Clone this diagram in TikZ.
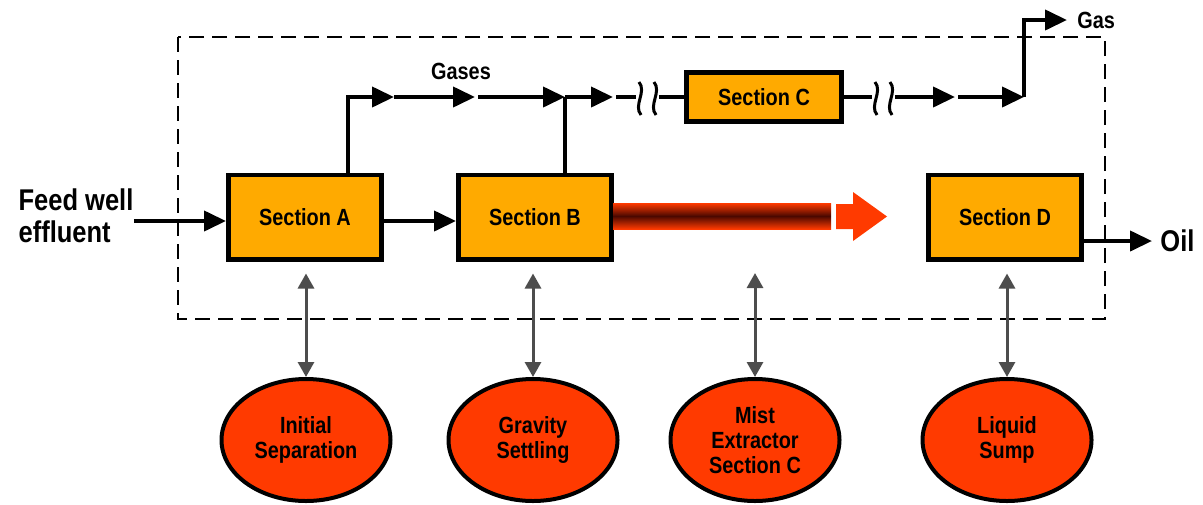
\documentclass[tikz,border=0pt]{standalone}
\usepackage{fontspec}
\setmainfont{Liberation Sans}[FakeStretch=0.85]
\usetikzlibrary{arrows.meta,positioning,shapes.geometric}
\definecolor{boxorange}{HTML}{FFAA00}
\definecolor{zonered}{HTML}{FF3A00}
\definecolor{flowdark}{HTML}{4A0800}
\definecolor{linkgray}{HTML}{4D4D4D}

\begin{document}
\begin{tikzpicture}
        [x=0.5pt,y=-0.5pt,
         font=\fontsize{11.7}{12.5}\selectfont\bfseries,
         section/.style={draw, line width=2.3pt, fill=boxorange, inner sep=0pt,
           minimum width=76.7pt, minimum height=42.2pt},
         zone/.style={ellipse, draw, line width=2pt, fill=zonered, inner sep=0pt,
           minimum width=84.5pt, minimum height=61pt, align=center},
         label/.style={inner sep=0pt},
         biglabel/.style={inner sep=0pt, font=\fontsize{15}{16}\selectfont\bfseries},
         pipe/.style={line width=2pt},
         flow/.style={line width=2pt, -{Triangle[length=11pt,width=10pt]}},
         link/.style={linkgray, line width=1.5pt,
           {Triangle[length=7.5pt,width=8pt]}-{Triangle[length=7.5pt,width=8pt]}}]
        %\draw[help lines] (0,0) grid (1203,504);
        \useasboundingbox (0,0) rectangle (1203,504);
        \draw[line width=1.4pt, dash pattern=on 7.5pt off 4pt] (178,37) rectangle (1105,319);
        % sections
        \node[section] (secA) at (305,217) {Section A};
        \node[section] (secB) at (535,217) {Section B};
        \node[section, minimum width=77.7pt, minimum height=24.7pt] (secC) at (764,97) {Section C};
        \node[section] (secD) at (1005,217) {Section D};
        % zones
        \node[zone] (initial) at (306,440) {Initial\\Separation};
        \node[zone] (gravity) at (533,440) {Gravity\\Settling};
        \node[zone] (mist) at (755,440) {Mist\\Extractor\\Section C};
        \node[zone] (sump) at (1007,440) {Liquid\\Sump};
        % labels
        \node[biglabel, align=left] (feed) at (76,216) {Feed well\\effluent};
        \node[biglabel, anchor=west] (oil) at (1160,241) {Oil};
        \node[label] (gases) at (461,71) {Gases};
        \node[label, anchor=west] (gas) at (1077,20) {Gas};
        % liquid path
        \draw[flow] (feed.east |- 0,221) -- ([yshift=-2pt]secA.west);
        \draw[flow] ([yshift=-2pt]secA.east) -- ([yshift=-2pt]secB.west);
        \draw[flow, shorten >=4pt] ([yshift=-12pt]secD.east) -- (oil.west);
        \shade[top color=zonered, bottom color=zonered, middle color=flowdark]
          (613,203) rectangle (831,229);
        \fill[zonered] (836,204) -- (853,204) -- (853,192) -- (887,216.5)
          -- (853,241) -- (853,229) -- (836,229) -- cycle;
        % gas path
        \coordinate (g1) at (394,97);
        \coordinate (g2) at (475,97);
        \coordinate (g3) at (478,97);
        \coordinate (joinB) at (565,97);
        \coordinate (g4) at (613,97);
        \coordinate (g5) at (616,97);
        \coordinate (cut1) at (636,97);
        \coordinate (cut2) at (659,97);
        \coordinate (cut3) at (872,97);
        \coordinate (cut4) at (895,97);
        \coordinate (g6) at (955,97);
        \coordinate (g7) at (958,97);
        \coordinate (rise) at (1024,97);
        \draw[flow] ([xshift=21.5pt]secA.north) |- (g1);
        \draw[flow] (g1) -- (g2);
        \draw[flow] (g3) -- (joinB);
        \draw[pipe] ([xshift=15pt]secB.north) -- (joinB);
        \draw[flow] (joinB) -- (g4);
        \draw[pipe] (g5) -- (cut1);
        \draw[pipe] (cut2) -- (secC.west);
        \draw[pipe] (secC.east) -- (cut3);
        \draw[flow] (cut4) -- (g6);
        \draw[flow] (g7) -- (rise);
        \draw[flow, shorten >=5pt] (rise) |- (gas.west);
        \foreach \sx in {640,655,876,891}
          \draw[line width=1.5pt] (\sx-1,82) .. controls (\sx+7,92) and (\sx-7,105) .. (\sx+1,115);
        % links
        \coordinate (mistTop) at (755,273);
        \draw[link, shorten <=6pt] (initial.north |- secA.south) -- (initial.north);
        \draw[link, shorten <=6pt] (gravity.north |- secB.south) -- (gravity.north);
        \draw[link] (mistTop) -- (mist.north);
        \draw[link, shorten <=6pt] (sump.north |- secD.south) -- (sump.north);
      \end{tikzpicture}
\end{document}
